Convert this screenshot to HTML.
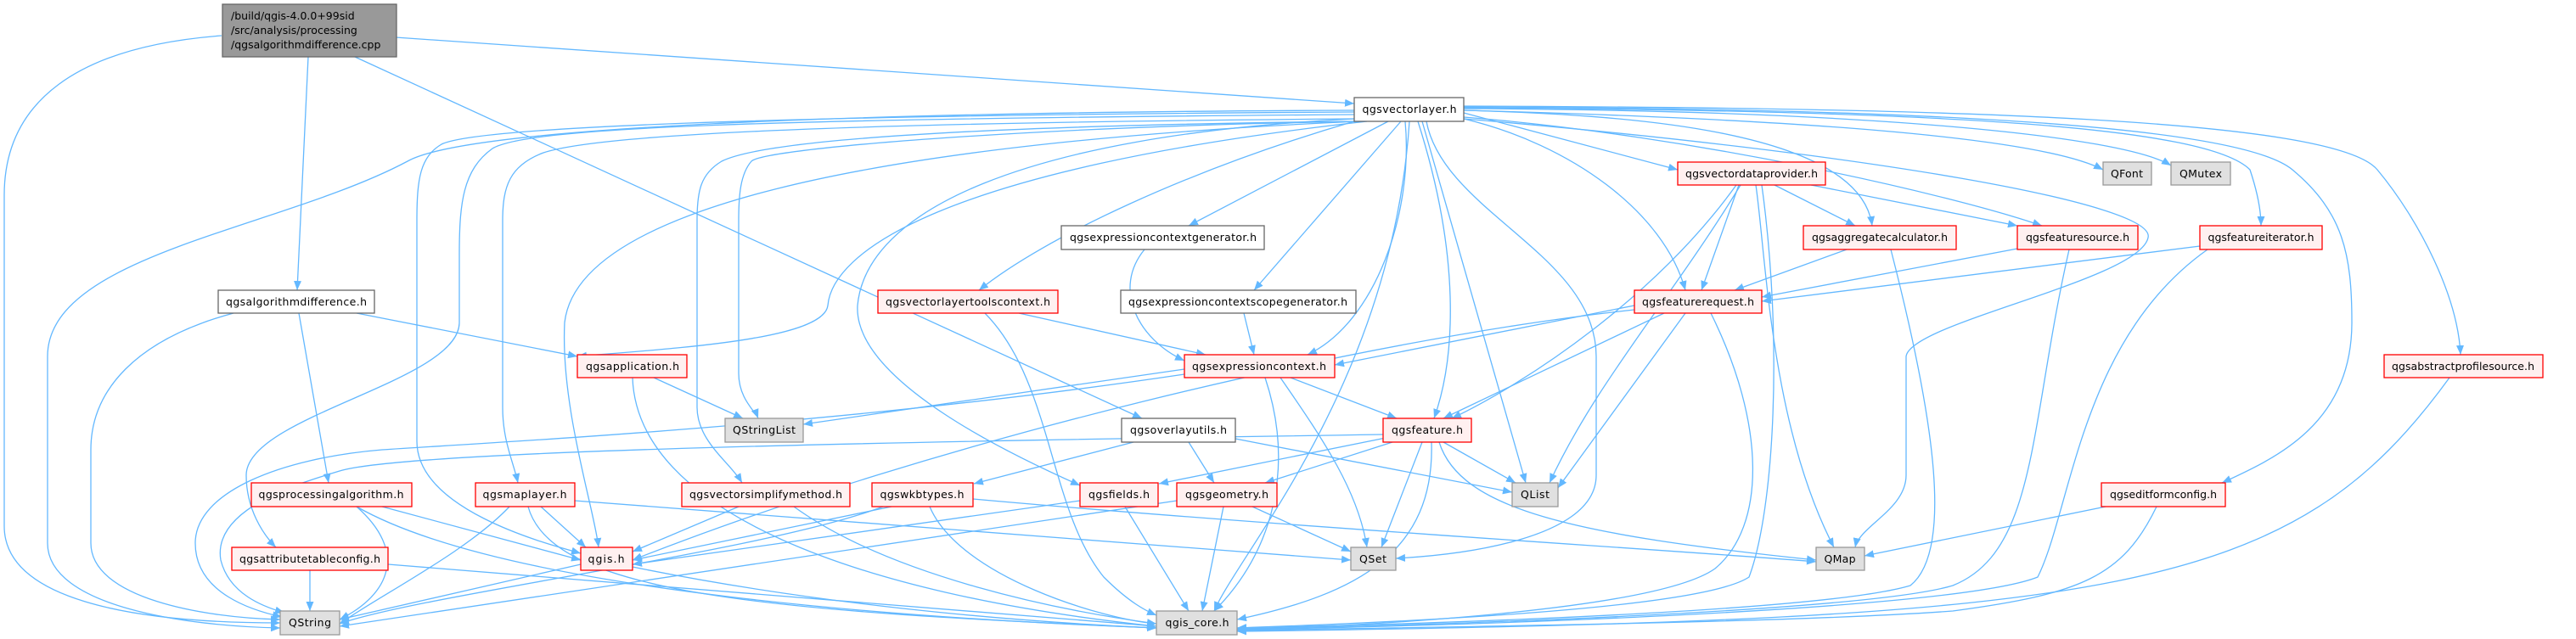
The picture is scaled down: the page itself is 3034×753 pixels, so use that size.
<!DOCTYPE html>
<html><head><meta charset="utf-8"><style>
html,body{margin:0;padding:0;background:#fff}
svg{display:block}
text{font-family:"DejaVu Sans","Liberation Sans",sans-serif;font-size:12.5px;fill:#000}
.e{fill:none;stroke:#63b8ff;stroke-width:1.3;marker-end:url(#a)}
.r{fill:#fff0f0;stroke:#ff0000;stroke-width:1.3}
.w{fill:#fff;stroke:#666;stroke-width:1.3}
.g{fill:#e0e0e0;stroke:#999;stroke-width:1.3}
</style></head><body>
<svg width="3034" height="753" viewBox="0 0 3034 753" xmlns="http://www.w3.org/2000/svg">
<defs><marker id="a" markerUnits="userSpaceOnUse" markerWidth="12" markerHeight="10" refX="11" refY="4.5" orient="auto"><path d="M0,0 L11,4.5 L0,9 z" fill="#63b8ff"/></marker></defs>
<g>
<path class="e" d="M261,42 C90,55 5,120 5,230 L5,620 C5,705 150,734 330,734"/>
<path class="e" d="M363,67 L350,342"/>
<path class="e" d="M466,44 L1595,122"/>
<path class="e" d="M418,67 L1345,493"/>
<path class="e" d="M275,369 C160,400 107,460 107,530 L107,640 C107,705 240,728 330,730"/>
<path class="e" d="M420,369 L680,420"/>
<path class="e" d="M352,369 L387,569"/>
<path class="e" d="M1595,130 C1000,132 550,150 480,190 C330,270 56,300 56,420 L56,640 C56,715 220,738 330,740"/>
<path class="e" d="M1595,135 C900,140 620,150 580,175 C545,200 541,240 541,300 L541,380 C541,450 290,490 290,560 C290,600 310,630 325,645"/>
<path class="e" d="M1595,132 C900,136 560,150 520,170 C495,185 491,210 491,260 L491,520 C491,600 640,640 684,652"/>
<path class="e" d="M1595,140 C950,145 700,160 640,180 C600,195 592,220 592,260 L592,480 C592,520 605,545 610,569"/>
<path class="e" d="M1595,143 C1000,150 880,175 850,190 C825,205 821,225 821,260 L821,480 C821,520 860,545 874,569"/>
<path class="e" d="M1600,143 C1200,150 900,175 885,190 C872,205 870,230 870,260 L870,440 C870,470 890,485 893,493"/>
<path class="e" d="M1610,143 C1100,200 980,300 975,360 C970,400 800,410 680,420"/>
<path class="e" d="M1600,143 C1000,170 680,250 665,380 C660,480 700,600 705,645"/>
<path class="e" d="M1635,143 L1400,266"/>
<path class="e" d="M1595,143 C1400,200 1230,280 1153,342"/>
<path class="e" d="M1650,143 L1477,342"/>
<path class="e" d="M1655,143 C1665,250 1620,380 1540,418"/>
<path class="e" d="M1724,140 C1850,170 1960,250 1985,342"/>
<path class="e" d="M1670,143 C1720,300 1715,420 1689,493"/>
<path class="e" d="M1675,143 L1797,569"/>
<path class="e" d="M1680,143 C1700,250 1880,300 1880,420 L1880,560 C1880,640 1700,655 1644,658"/>
<path class="e" d="M1660,143 C1640,450 1460,650 1430,720"/>
<path class="e" d="M1595,140 C1200,160 1020,250 1010,360 C1005,450 1200,540 1272,572"/>
<path class="e" d="M1724,133 L1976,200"/>
<path class="e" d="M1724,130 C1900,135 2190,150 2205,266"/>
<path class="e" d="M1724,138 C2000,160 2300,230 2405,266"/>
<path class="e" d="M1724,140 C2200,180 2540,240 2530,280 C2520,330 2250,380 2245,420 L2245,560 C2245,600 2190,620 2185,645"/>
<path class="e" d="M1724,130 C2100,140 2400,160 2477,200"/>
<path class="e" d="M1724,128 C2200,130 2500,160 2557,195"/>
<path class="e" d="M1724,127 C2300,130 2600,150 2650,200 C2660,230 2663,250 2663,266"/>
<path class="e" d="M1724,126 C2300,128 2640,150 2700,200 C2760,250 2770,300 2770,380 C2770,500 2680,540 2617,569"/>
<path class="e" d="M1724,125 C2300,127 2750,140 2800,200 C2850,260 2895,350 2898,418"/>
<path class="e" d="M1348,294 C1310,340 1340,400 1395,425"/>
<path class="e" d="M1200,369 L1420,418"/>
<path class="e" d="M1160,369 C1240,450 1235,600 1300,680 C1330,710 1350,720 1362,725"/>
<path class="e" d="M1465,369 L1477,418"/>
<path class="e" d="M1395,441 C1000,500 600,520 450,530 C330,540 230,580 230,640 C230,700 300,720 332,727"/>
<path class="e" d="M1395,435 L946,500"/>
<path class="e" d="M1520,445 L1645,493"/>
<path class="e" d="M1508,445 C1560,520 1600,580 1610,645"/>
<path class="e" d="M1490,445 C1525,550 1500,650 1430,720"/>
<path class="e" d="M1335,521 L1147,570"/>
<path class="e" d="M1400,521 L1430,569"/>
<path class="e" d="M1455,517 L1781,580"/>
<path class="e" d="M1629,512 C1100,520 480,530 400,555 C350,570 250,600 260,660 C270,700 310,715 335,722"/>
<path class="e" d="M1637,515 L1365,570"/>
<path class="e" d="M1640,521 L1490,569"/>
<path class="e" d="M1700,521 L1785,569"/>
<path class="e" d="M1675,521 L1627,645"/>
<path class="e" d="M1695,521 C1720,600 1850,630 2139,660"/>
<path class="e" d="M1686,521 C1690,650 1600,700 1457,730"/>
<path class="e" d="M1040,597 C900,650 500,700 400,735"/>
<path class="e" d="M1050,597 L745,660"/>
<path class="e" d="M1095,597 C1130,680 1300,730 1362,735"/>
<path class="e" d="M1146,588 C1500,620 2000,650 2139,662"/>
<path class="e" d="M1272,590 L745,665"/>
<path class="e" d="M1325,597 L1400,720"/>
<path class="e" d="M1386,590 L400,738"/>
<path class="e" d="M1475,597 L1591,650"/>
<path class="e" d="M1441,597 L1416,720"/>
<path class="e" d="M420,597 C480,650 460,700 400,730"/>
<path class="e" d="M450,597 L684,660"/>
<path class="e" d="M420,597 C600,700 1100,730 1362,740"/>
<path class="e" d="M600,597 C550,650 450,700 400,735"/>
<path class="e" d="M637,597 L690,645"/>
<path class="e" d="M622,597 C650,700 900,720 1362,740"/>
<path class="e" d="M677,590 L1591,660"/>
<path class="e" d="M870,597 L745,650"/>
<path class="e" d="M935,597 C1050,680 1250,720 1362,735"/>
<path class="e" d="M365,672 L365,720"/>
<path class="e" d="M457,665 C900,700 1200,725 1362,738"/>
<path class="e" d="M684,665 L400,730"/>
<path class="e" d="M745,668 C1000,720 1250,735 1362,740"/>
<path class="e" d="M770,445 L875,493"/>
<path class="e" d="M745,445 C750,600 1000,700 1362,738"/>
<path class="e" d="M2048,218 L2004,342"/>
<path class="e" d="M2045,218 C1950,350 1800,450 1710,493"/>
<path class="e" d="M2050,218 C1970,350 1880,450 1825,569"/>
<path class="e" d="M2068,218 C2080,300 2085,500 2160,645"/>
<path class="e" d="M2090,218 L2185,266"/>
<path class="e" d="M2133,218 L2376,266"/>
<path class="e" d="M2075,218 C2100,400 2090,600 2060,680 C2000,720 1600,735 1457,740"/>
<path class="e" d="M2175,294 L2043,342"/>
<path class="e" d="M2227,294 C2280,500 2300,650 2250,690 C2150,720 1700,735 1457,740"/>
<path class="e" d="M2376,293 L2075,350"/>
<path class="e" d="M2437,294 C2390,500 2400,650 2300,690 C2200,720 1700,737 1457,741"/>
<path class="e" d="M2591,290 L2075,355"/>
<path class="e" d="M2600,294 C2450,400 2440,600 2400,680 C2300,720 1700,738 1457,742"/>
<path class="e" d="M1925,360 L1572,430"/>
<path class="e" d="M1960,369 L1700,493"/>
<path class="e" d="M1985,369 L1835,575"/>
<path class="e" d="M1925,365 C1600,400 1100,520 745,660"/>
<path class="e" d="M2015,369 C2080,500 2080,620 2020,670 C1950,720 1600,738 1457,742"/>
<path class="e" d="M2480,597 L2196,655"/>
<path class="e" d="M2540,597 C2500,680 2450,700 2300,720 C2100,735 1600,740 1457,743"/>
<path class="e" d="M2885,445 C2700,700 2500,730 1457,744"/>
</g>
<g>
<rect x="262" y="5" width="205" height="62" fill="#999" stroke="#666" stroke-width="1.3"/>
<text x="272" y="23">/build/qgis-4.0.0+99sid</text>
<text x="272" y="40">/src/analysis/processing</text>
<text x="272" y="57">/qgsalgorithmdifference.cpp</text>

<rect class="w" x="257" y="342" width="184" height="27"/><text x="349" y="360" text-anchor="middle" textLength="166">qgsalgorithmdifference.h</text>
<rect class="w" x="1595" y="115" width="129" height="28"/><text x="1660" y="133" text-anchor="middle" textLength="111">qgsvectorlayer.h</text>
<rect class="r" x="680" y="418" width="129" height="27"/><text x="745" y="436" text-anchor="middle" textLength="110">qgsapplication.h</text>
<rect class="g" x="854" y="493" width="92" height="28"/><text x="900" y="511" text-anchor="middle" textLength="74">QStringList</text>
<rect class="r" x="296" y="569" width="189" height="28"/><text x="390" y="587" text-anchor="middle" textLength="171">qgsprocessingalgorithm.h</text>
<rect class="r" x="560" y="569" width="117" height="28"/><text x="618" y="587" text-anchor="middle" textLength="99">qgsmaplayer.h</text>
<rect class="r" x="803" y="569" width="198" height="28"/><text x="902" y="587" text-anchor="middle" textLength="180">qgsvectorsimplifymethod.h</text>
<rect class="r" x="273" y="645" width="184" height="27"/><text x="365" y="663" text-anchor="middle" textLength="166">qgsattributetableconfig.h</text>
<rect class="r" x="684" y="645" width="61" height="27"/><text x="714" y="663" text-anchor="middle" textLength="43">qgis.h</text>
<rect class="g" x="330" y="720" width="70" height="28"/><text x="365" y="738" text-anchor="middle" textLength="50">QString</text>
<rect class="w" x="1250" y="266" width="239" height="28"/><text x="1370" y="284" text-anchor="middle" textLength="220">qgsexpressioncontextgenerator.h</text>
<rect class="r" x="1034" y="342" width="212" height="27"/><text x="1140" y="360" text-anchor="middle" textLength="194">qgsvectorlayertoolscontext.h</text>
<rect class="w" x="1320" y="342" width="277" height="27"/><text x="1458" y="360" text-anchor="middle" textLength="258">qgsexpressioncontextscopegenerator.h</text>
<rect class="r" x="1925" y="342" width="150" height="27"/><text x="2000" y="360" text-anchor="middle" textLength="132">qgsfeaturerequest.h</text>
<rect class="r" x="1976" y="191" width="174" height="27"/><text x="2063" y="209" text-anchor="middle" textLength="156">qgsvectordataprovider.h</text>
<rect class="g" x="2477" y="191" width="57" height="27"/><text x="2505" y="209" text-anchor="middle" textLength="38">QFont</text>
<rect class="g" x="2557" y="191" width="70" height="27"/><text x="2592" y="209" text-anchor="middle" textLength="50">QMutex</text>
<rect class="r" x="2124" y="266" width="180" height="28"/><text x="2214" y="284" text-anchor="middle" textLength="160">qgsaggregatecalculator.h</text>
<rect class="r" x="2376" y="266" width="142" height="28"/><text x="2447" y="284" text-anchor="middle" textLength="122">qgsfeaturesource.h</text>
<rect class="r" x="2591" y="266" width="144" height="28"/><text x="2663" y="284" text-anchor="middle" textLength="125">qgsfeatureiterator.h</text>
<rect class="r" x="1395" y="418" width="177" height="27"/><text x="1483" y="436" text-anchor="middle" textLength="158">qgsexpressioncontext.h</text>
<rect class="w" x="1321" y="493" width="134" height="28"/><text x="1388" y="511" text-anchor="middle" textLength="114">qgsoverlayutils.h</text>
<rect class="r" x="1629" y="493" width="104" height="28"/><text x="1681" y="511" text-anchor="middle" textLength="84">qgsfeature.h</text>
<rect class="r" x="1027" y="569" width="119" height="28"/><text x="1086" y="587" text-anchor="middle" textLength="99">qgswkbtypes.h</text>
<rect class="r" x="1272" y="569" width="92" height="28"/><text x="1318" y="587" text-anchor="middle" textLength="72">qgsfields.h</text>
<rect class="r" x="1386" y="569" width="118" height="28"/><text x="1445" y="587" text-anchor="middle" textLength="98">qgsgeometry.h</text>
<rect class="g" x="1781" y="569" width="54" height="28"/><text x="1808" y="587" text-anchor="middle" textLength="34">QList</text>
<rect class="g" x="1591" y="645" width="53" height="27"/><text x="1617" y="663" text-anchor="middle" textLength="32">QSet</text>
<rect class="g" x="1362" y="720" width="95" height="28"/><text x="1410" y="738" text-anchor="middle" textLength="75">qgis_core.h</text>
<rect class="r" x="2808" y="418" width="187" height="27"/><text x="2901" y="436" text-anchor="middle" textLength="168">qgsabstractprofilesource.h</text>
<rect class="r" x="2475" y="569" width="146" height="28"/><text x="2548" y="587" text-anchor="middle" textLength="126">qgseditformconfig.h</text>
<rect class="g" x="2139" y="645" width="57" height="27"/><text x="2167" y="663" text-anchor="middle" textLength="37">QMap</text>
</g>
</svg>
</body></html>
